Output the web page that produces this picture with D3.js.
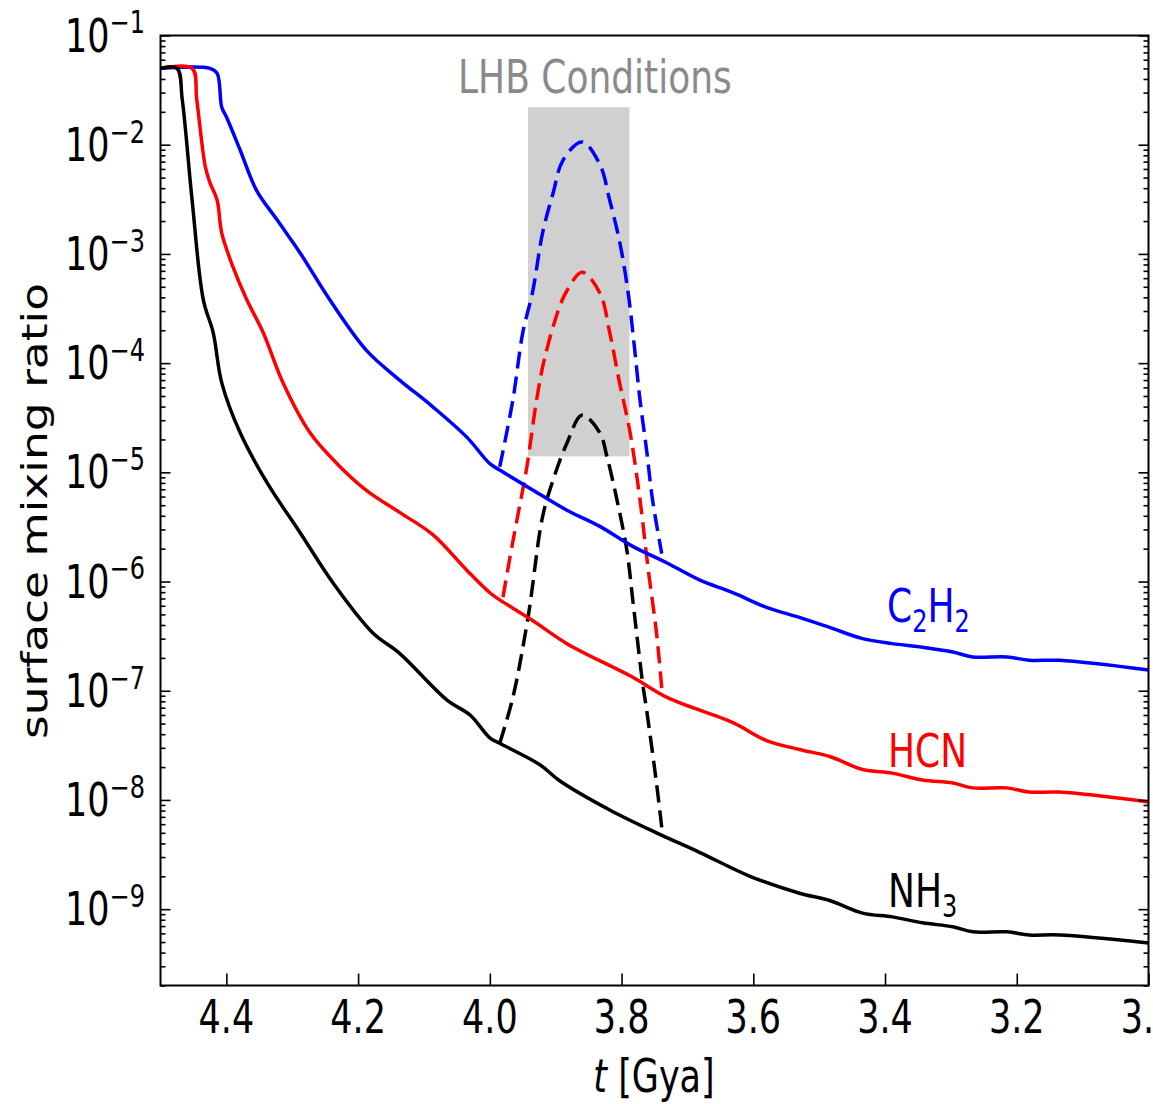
<!DOCTYPE html>
<html>
<head>
<meta charset="utf-8">
<script src="https://cdn.jsdelivr.net/npm/d3@7"></script>
<style>
  body { margin: 0; background: #fff; }
  text { font-family: "DejaVu Sans", sans-serif; }
</style>
</head>
<body>
<div class="chart"></div>
<script>
// values: [t in Gya, surface mixing ratio]
const nh3Solid = [[4.50,5.0e-2],[4.475,5.0e-2],[4.467,2.6e-2],[4.452,3.1e-3],[4.435,3.8e-4],[4.42,1.9e-4],
  [4.407,6.6e-5],[4.379,2.3e-5],[4.338,8.0e-6],[4.288,2.8e-6],[4.238,9.7e-7],[4.178,3.4e-7],[4.137,2.2e-7],
  [4.065,8.2e-8],[4.03,6.0e-8],[4.0,3.7e-8],[3.985,3.3e-8],[3.924,2.1e-8],[3.894,1.5e-8],[3.818,8.1e-9],
  [3.747,5.0e-9],[3.681,3.3e-9],[3.605,2.0e-9],[3.53,1.4e-9],[3.484,1.2e-9],[3.434,9.2e-10],[3.389,8.5e-10],
  [3.343,7.5e-10],[3.297,6.9e-10],[3.267,6.2e-10],[3.215,6.2e-10],[3.181,5.8e-10],[3.135,5.8e-10],[3.0,4.9e-10]];
const hcnSolid = [[4.50,5.0e-2],[4.452,5.0e-2],[4.445,2.6e-2],[4.432,6.3e-3],[4.425,4.5e-3],[4.414,3.1e-3],
  [4.407,1.55e-3],[4.39,7.6e-4],[4.369,3.8e-4],[4.344,1.9e-4],[4.314,6.6e-5],[4.273,2.3e-5],[4.232,1.2e-5],
  [4.187,6.8e-6],[4.137,4.3e-6],[4.087,2.7e-6],[4.035,1.27e-6],[4.0,7.9e-7],[3.985,6.8e-7],[3.935,4.4e-7],
  [3.883,2.7e-7],[3.783,1.33e-7],[3.731,8.7e-8],[3.631,5.1e-8],[3.58,3.5e-8],[3.53,2.9e-8],[3.484,2.5e-8],
  [3.434,1.9e-8],[3.389,1.76e-8],[3.343,1.52e-8],[3.297,1.43e-8],[3.267,1.29e-8],[3.215,1.29e-8],
  [3.181,1.18e-8],[3.135,1.18e-8],[3.0,9.6e-9]];
const c2h2Solid = [[4.50,5.0e-2],[4.425,5.0e-2],[4.414,4.5e-2],[4.407,2.2e-2],[4.40,1.8e-2],[4.379,8.9e-3],
  [4.354,3.8e-3],[4.323,2.05e-3],[4.288,1.02e-3],[4.243,3.8e-4],[4.187,1.3e-4],[4.137,7.0e-5],[4.087,4.0e-5],
  [4.035,2.1e-5],[4.0,1.2e-5],[3.985,1.05e-5],[3.935,6.9e-6],[3.883,4.5e-6],[3.833,3.2e-6],[3.783,2.1e-6],
  [3.731,1.48e-6],[3.681,1.03e-6],[3.631,7.9e-7],[3.58,5.8e-7],[3.53,4.7e-7],[3.484,3.8e-7],[3.434,3.0e-7],
  [3.389,2.7e-7],[3.343,2.5e-7],[3.297,2.26e-7],[3.267,2.04e-7],[3.215,2.04e-7],[3.181,1.9e-7],
  [3.135,1.9e-7],[3.0,1.55e-7]];

// LHB excursions (dashed)
const c2h2Lhb = [[3.985,1.12e-5],[3.965,4.6e-5],[3.95,1.9e-4],[3.935,4.5e-4],[3.92,1.55e-3],[3.904,3.6e-3],
  [3.889,7.2e-3],[3.86,1.06e-2],[3.833,6.6e-3],[3.818,3.1e-3],[3.803,1.3e-3],[3.79,4.4e-4],[3.781,1.5e-4],
  [3.772,4.6e-5],[3.762,1.6e-5],[3.753,5.6e-6],[3.739,1.8e-6]];
const hcnLhb = [[3.98,7.2e-7],[3.97,1.6e-6],[3.958,3.9e-6],[3.944,1.1e-5],[3.929,4.6e-5],[3.917,1.1e-4],
  [3.894,3.3e-4],[3.883,4.6e-4],[3.86,6.8e-4],[3.833,4.4e-4],[3.818,1.9e-4],[3.803,6.6e-5],[3.787,2.3e-5],
  [3.772,5.6e-6],[3.76,1.36e-6],[3.747,3.4e-7],[3.739,1.06e-7]];
const nh3Lhb = [[3.985,3.3e-8],[3.965,8.7e-8],[3.942,4.7e-7],[3.92,3.9e-6],[3.904,8.5e-6],[3.883,1.85e-5],
  [3.86,3.35e-5],[3.833,2.3e-5],[3.822,1.38e-5],[3.807,5.6e-6],[3.792,1.94e-6],[3.783,6.8e-7],[3.768,1.17e-7],
  [3.762,6.7e-8],[3.747,1.43e-8],[3.739,5.6e-9]];

// shaded LHB box: [t start, t end], [low, high]
const lhbSpan = [3.942, 3.788];
const lhbRange = [1.4e-5, 2.2e-2];

const xTicks = [4.4, 4.2, 4.0, 3.8, 3.6, 3.4, 3.2, 3.0];
const yExponents = [-1, -2, -3, -4, -5, -6, -7, -8, -9];

const width = 1153, height = 1104;
const plotLeft = 160.5, plotRight = 1148.5, plotTop = 35.5, plotBottom = 985.5;
const SY = 1.3; // the figure's text is stretched vertically

const x = d3.scaleLinear().domain([4.5, 3.0]).range([plotLeft, plotRight]);
const y = d3.scaleLog().domain([2e-10, 1e-1]).range([plotBottom, plotTop]);

const svg = d3.select(".chart").append("svg")
    .attr("width", width)
    .attr("height", height);

svg.append("defs").append("clipPath").attr("id", "plotClip")
  .append("rect")
    .attr("x", plotLeft).attr("y", plotTop)
    .attr("width", plotRight - plotLeft).attr("height", plotBottom - plotTop);

// text with optional sub/superscripts, stretched by SY
function addText(px, py, parts, size, color, anchor) {
    const t = svg.append("text")
        .attr("transform", `translate(${px},${py}) scale(1,${SY})`)
        .attr("font-size", size)
        .attr("fill", color)
        .attr("text-anchor", anchor || "start");
    let cur = 0;
    parts.forEach(p => {
        const off = p.off || 0;
        const ts = t.append("tspan").text(p.s).attr("dy", off - cur);
        if (p.size) ts.attr("font-size", p.size);
        if (p.italic) ts.attr("font-style", "italic");
        cur = off;
    });
    return t;
}

// LHB box
svg.append("rect")
    .attr("x", x(lhbSpan[0]))
    .attr("y", y(lhbRange[1]))
    .attr("width", x(lhbSpan[1]) - x(lhbSpan[0]))
    .attr("height", y(lhbRange[0]) - y(lhbRange[1]))
    .attr("fill", "#d0d0d0");

addText(458, 93, [{s: "LHB Conditions"}], 36, "#8a8a8a");

const line = d3.line().x(d => x(d[0])).y(d => y(d[1])).curve(d3.curveCatmullRom.alpha(0.5));
const plot = svg.append("g").attr("clip-path", "url(#plotClip)");

const series = [
    {data: c2h2Lhb, color: "#0000ff", dash: true},
    {data: hcnLhb, color: "#ff0000", dash: true},
    {data: nh3Lhb, color: "#000000", dash: true},
    {data: c2h2Solid, color: "#0000ff"},
    {data: hcnSolid, color: "#ff0000"},
    {data: nh3Solid, color: "#000000"}
];
series.forEach(s => {
    plot.append("path")
        .datum(s.data)
        .attr("d", line)
        .attr("fill", "none")
        .attr("stroke", s.color)
        .attr("stroke-width", 3.5)
        .attr("stroke-linejoin", "round")
        .attr("stroke-dasharray", s.dash ? "17,8" : null);
});

// ticks (pointing inward)
const majors = yExponents.map(e => Math.pow(10, e));
const minors = [];
for (let e = -10; e <= -2; e++) {
    for (let m = 2; m <= 9; m++) {
        const v = m * Math.pow(10, e);
        if (v >= 2e-10 && v < 1e-1) minors.push(v);
    }
}

function styleAxis(g) {
    g.select(".domain").remove();
    g.selectAll(".tick line").attr("stroke", "#000").attr("stroke-width", 1.6);
    g.selectAll(".tick text").remove();
}

svg.append("g").attr("transform", `translate(${plotLeft},0)`)
    .call(d3.axisLeft(y).tickValues(majors).tickSize(-10).tickFormat("")).call(styleAxis);
svg.append("g").attr("transform", `translate(${plotLeft},0)`)
    .call(d3.axisLeft(y).tickValues(minors).tickSize(-5).tickFormat("")).call(styleAxis);
svg.append("g").attr("transform", `translate(${plotRight},0)`)
    .call(d3.axisRight(y).tickValues(majors).tickSize(-10).tickFormat("")).call(styleAxis);
svg.append("g").attr("transform", `translate(${plotRight},0)`)
    .call(d3.axisRight(y).tickValues(minors).tickSize(-5).tickFormat("")).call(styleAxis);
svg.append("g").attr("transform", `translate(0,${plotBottom})`)
    .call(d3.axisBottom(x).tickValues(xTicks).tickSize(-12).tickFormat("")).call(styleAxis);

// frame
svg.append("rect")
    .attr("x", plotLeft).attr("y", plotTop)
    .attr("width", plotRight - plotLeft).attr("height", plotBottom - plotTop)
    .attr("fill", "none").attr("stroke", "#000").attr("stroke-width", 2);

// tick labels (the last one runs off the right edge, as in the original)
xTicks.forEach(t => addText(x(t), 1033, [{s: t.toFixed(1)}], 35, "#000", "middle"));
yExponents.forEach(e => addText(145, y(Math.pow(10, e)) + 16,
    [{s: "10"}, {s: "\u2212" + (-e), size: 24, off: -14}], 35, "#000", "end"));

// axis titles
addText(654, 1092, [{s: "t", italic: true}, {s: " [Gya]"}], 35, "#000", "middle");
svg.append("text")
    .attr("transform", `translate(47,511) scale(1,${SY}) rotate(-90)`)
    .attr("font-size", 35)
    .attr("text-anchor", "middle")
    .attr("fill", "#000")
    .text("surface mixing ratio");

// species labels
addText(887, 622, [{s: "C"}, {s: "2", size: 24, off: 8}, {s: "H"}, {s: "2", size: 24, off: 8}], 36, "#0000ff");
addText(888, 767, [{s: "HCN"}], 36, "#ff0000");
addText(888, 907, [{s: "NH"}, {s: "3", size: 24, off: 8}], 36, "#000000");
</script>
</body>
</html>
